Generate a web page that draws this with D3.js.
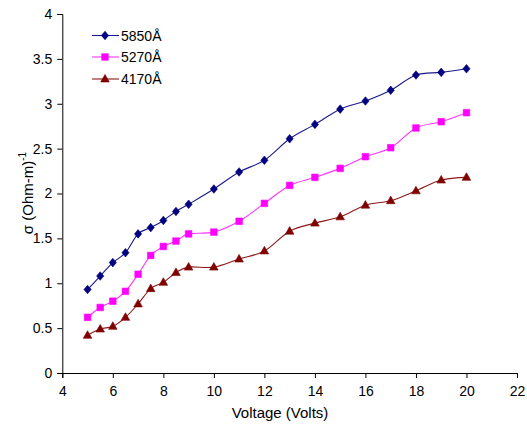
<!DOCTYPE html>
<html>
<head>
<meta charset="utf-8">
<script src="https://cdn.jsdelivr.net/npm/d3@7"></script>
<style>
  html, body { margin: 0; padding: 0; background: #fff; }
  svg { display: block; font-family: "Liberation Sans", Arial, sans-serif; }
</style>
</head>
<body>
<svg id="chart" width="527" height="430"></svg>
<script>
// Applied voltage (Volts)
const voltage = [5, 5.5, 6, 6.5, 7, 7.5, 8, 8.5, 9, 10, 11, 12, 13, 14, 15, 16, 17, 18, 19, 20];

// Conductivity σ (Ohm-m)^-1 for each illumination wavelength
const sigma5850 = [0.93, 1.08, 1.23, 1.34, 1.55, 1.62, 1.70, 1.80, 1.88, 2.05, 2.24, 2.37, 2.61, 2.77, 2.94, 3.03, 3.15, 3.32, 3.35, 3.39];
const sigma5270 = [0.62, 0.73, 0.80, 0.91, 1.10, 1.31, 1.41, 1.47, 1.55, 1.57, 1.69, 1.89, 2.09, 2.18, 2.28, 2.41, 2.51, 2.73, 2.80, 2.90];
const sigma4170 = [0.42, 0.49, 0.52, 0.62, 0.77, 0.94, 1.01, 1.12, 1.18, 1.18, 1.27, 1.36, 1.58, 1.67, 1.74, 1.87, 1.92, 2.03, 2.15, 2.18];

const seriesNames = ["5850Å", "5270Å", "4170Å"];
const xTicks = [4, 6, 8, 10, 12, 14, 16, 18, 20, 22];
const yTicks = [0, 0.5, 1, 1.5, 2, 2.5, 3, 3.5, 4];

const series = [
  { name: seriesNames[0], values: sigma5850, color: "#000080", line: "#1a1a8c", marker: "diamond" },
  { name: seriesNames[1], values: sigma5270, color: "#ff00ff", line: "#ff33ff", marker: "square" },
  { name: seriesNames[2], values: sigma4170, color: "#800000", line: "#8c1a1a", marker: "triangle" }
];

const svg = d3.select("#chart");
const plotLeft = 62.3, plotRight = 517, plotTop = 14, plotBottom = 373;

const x = d3.scaleLinear().domain([4, 22]).range([plotLeft, plotRight]);
const y = d3.scaleLinear().domain([0, 4]).range([plotBottom, plotTop]);

// Axes
const xAxis = d3.axisBottom(x).tickValues(xTicks).tickSize(5).tickFormat(d3.format("d"));
const yAxis = d3.axisLeft(y).tickValues(yTicks).tickSize(5).tickFormat(d => String(d));

const gx = svg.append("g").attr("transform", `translate(0,${plotBottom})`).call(xAxis);
const gy = svg.append("g").attr("transform", `translate(${plotLeft},0)`).call(yAxis);

[gx, gy].forEach(g => {
  g.select(".domain").attr("stroke", "#000").attr("stroke-width", 1);
  g.selectAll(".tick line").attr("stroke", "#000");
  g.selectAll(".tick text").attr("fill", "#000").attr("font-size", 14)
    .attr("font-family", "Liberation Sans, Arial, sans-serif");
});
gx.selectAll(".tick text").attr("dy", "1.05em");
gy.selectAll(".tick text").attr("dx", "-2");

// Axis titles
svg.append("text")
  .attr("x", 280).attr("y", 418)
  .attr("text-anchor", "middle").attr("font-size", 15)
  .text("Voltage (Volts)");

const yt = svg.append("text")
  .attr("transform", "translate(33,193) rotate(-90)")
  .attr("text-anchor", "middle").attr("font-size", 15);
yt.append("tspan").text("σ (Ohm-m)");
yt.append("tspan").attr("font-size", 10).attr("dy", -7).text("-1");

// Marker shapes, drawn as small centred paths
const markerPaths = {
  diamond: "M0,-4.3L3.6,0L0,4.3L-3.6,0Z",
  square: "M-3.3,-3.3H3.3V3.3H-3.3Z",
  triangle: "M0,-4.6L4.3,3.0H-4.3Z"
};
function marker(g, type, color) {
  return g.append("path")
    .attr("d", markerPaths[type])
    .attr("fill", color).attr("stroke", color).attr("stroke-width", 0.6)
    .attr("stroke-linejoin", "round");
}

const lineGen = d3.line()
  .x(d => x(d[0])).y(d => y(d[1]))
  .curve(d3.curveCatmullRom.alpha(0));

series.forEach(s => {
  const pts = voltage.map((v, i) => [v, s.values[i]]);
  svg.append("path")
    .attr("d", lineGen(pts))
    .attr("fill", "none").attr("stroke", s.line).attr("stroke-width", 1.1);
  const g = svg.append("g");
  pts.forEach(p => {
    marker(g, s.marker, s.color).attr("transform", `translate(${x(p[0])},${y(p[1])})`);
  });
});

// Legend
const legendY = [35.5, 57, 79];
series.forEach((s, i) => {
  const g = svg.append("g").attr("transform", `translate(0,${legendY[i]})`);
  g.append("line").attr("x1", 92).attr("x2", 119).attr("y1", 0).attr("y2", 0)
    .attr("stroke", s.line).attr("stroke-width", 1.1);
  marker(g, s.marker, s.color).attr("transform", "translate(105,0)");
  g.append("text").attr("x", 121).attr("y", 0).attr("dy", "0.36em")
    .attr("font-size", 14).text(s.name);
});
</script>
</body>
</html>
